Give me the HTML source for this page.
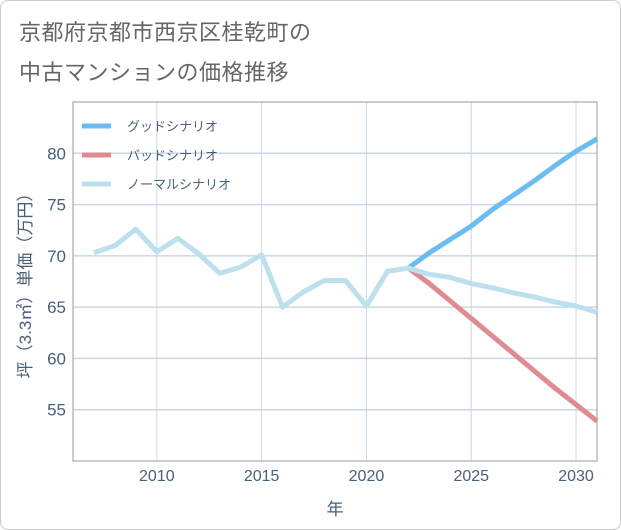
<!DOCTYPE html>
<html><head><meta charset="utf-8"><style>
body{margin:0;background:#fff;}
#wrap{position:relative;width:619px;height:528px;border:1px solid #ccc;border-radius:8px;background:#fff;overflow:hidden;}
.t{position:absolute;left:18px;font:22px "Liberation Sans","Noto Sans CJK JP",sans-serif;color:#666;letter-spacing:0.5px}
</style></head><body>
<div id="wrap">
<div class="t" style="top:14px">京都府京都市西京区桂乾町の</div>
<div class="t" style="top:54px">中古マンションの価格推移</div>
<svg id="c" width="621" height="530" style="position:absolute;left:-1px;top:-1px"></svg>
</div>
<script>
const years=[2007,2008,2009,2010,2011,2012,2013,2014,2015,2016,2017,2018,2019,2020,2021,2022,2023,2024,2025,2026,2027,2028,2029,2030,2031];
const normal=[70.3,71.0,72.6,70.4,71.7,70.2,68.3,68.9,70.1,65.0,66.5,67.6,67.6,65.1,68.5,68.8,68.2,67.9,67.3,66.9,66.4,66.0,65.5,65.1,64.5];
const goodYears=[2022,2023,2024,2025,2026,2027,2028,2029,2030,2031];
const good=[68.8,70.3,71.6,72.9,74.5,75.9,77.3,78.8,80.2,81.4];
const bad=[68.8,67.3,65.6,63.9,62.2,60.5,58.8,57.1,55.5,53.9];
const xTicks=[2010,2015,2020,2025,2030];
const yTicks=[55,60,65,70,75,80];
const L=73,R=597,T=102,B=461,x0=2006,x1=2031,y0=50,y1=85;
const X=v=>L+(v-x0)/(x1-x0)*(R-L);
const Y=v=>B-(v-y0)/(y1-y0)*(B-T);
const svg=document.getElementById('c');const NS='http://www.w3.org/2000/svg';
function mk(t,a,p){const e=document.createElementNS(NS,t);for(const k in a)e.setAttribute(k,a[k]);(p||svg).appendChild(e);return e;}
const font='"Liberation Sans","Noto Sans CJK JP",sans-serif';
xTicks.forEach(v=>{const l=mk('line',{x1:X(v),x2:X(v),y1:T,y2:B,stroke:'#c9d8e6','stroke-width':1});


const t=mk('text',{x:X(v),y:B+20,'text-anchor':'middle','font-size':16,fill:'#4a5f78','font-family':font});t.textContent=v;

});
yTicks.forEach(v=>{const l=mk('line',{x1:L,x2:R,y1:Y(v),y2:Y(v),stroke:'#c9d8e6','stroke-width':1.5});


const t=mk('text',{x:L-7,y:Y(v)+6,'text-anchor':'end','font-size':17,fill:'#4a5f78','font-family':font});t.textContent=v;

});
const fr=mk('rect',{x:L,y:T,width:R-L,height:B-T,fill:'none',stroke:'#999','stroke-width':1});


function line(xs,ys,col,name){const p=mk('polyline',{points:xs.map((x,i)=>X(x)+','+Y(ys[i])).join(' '),fill:'none',stroke:col,'stroke-width':5,'stroke-linejoin':'round'});

}
line(goodYears,bad,'#e08a91','bad-scenario-line');
line(goodYears,good,'#6bbcf0','good-scenario-line');
line(years,normal,'#bde0ef','normal-scenario-line');
const leg=[['グッドシナリオ','#6bbcf0'],['バッドシナリオ','#e08a91'],['ノーマルシナリオ','#bde0ef']];
leg.forEach((d,i)=>{const y=126+i*29;const g=mk('g',{});


mk('line',{x1:82,x2:111,y1:y,y2:y,stroke:d[1],'stroke-width':5},g);
const t=mk('text',{x:127,y:y+5,'font-size':13,fill:'#4a5f78','font-family':font},g);t.textContent=d[0];});
const xt=mk('text',{x:(L+R)/2,y:515,'text-anchor':'middle','font-size':17,fill:'#4a5f78','font-family':font});xt.textContent='年';


const yt=mk('text',{x:0,y:0,'text-anchor':'middle','font-size':17,fill:'#4a5f78','font-family':font,transform:'translate(31,'+((T+B)/2)+') rotate(-90)'});yt.textContent='坪（3.3㎡）単価（万円）';


</script>
</body></html>
